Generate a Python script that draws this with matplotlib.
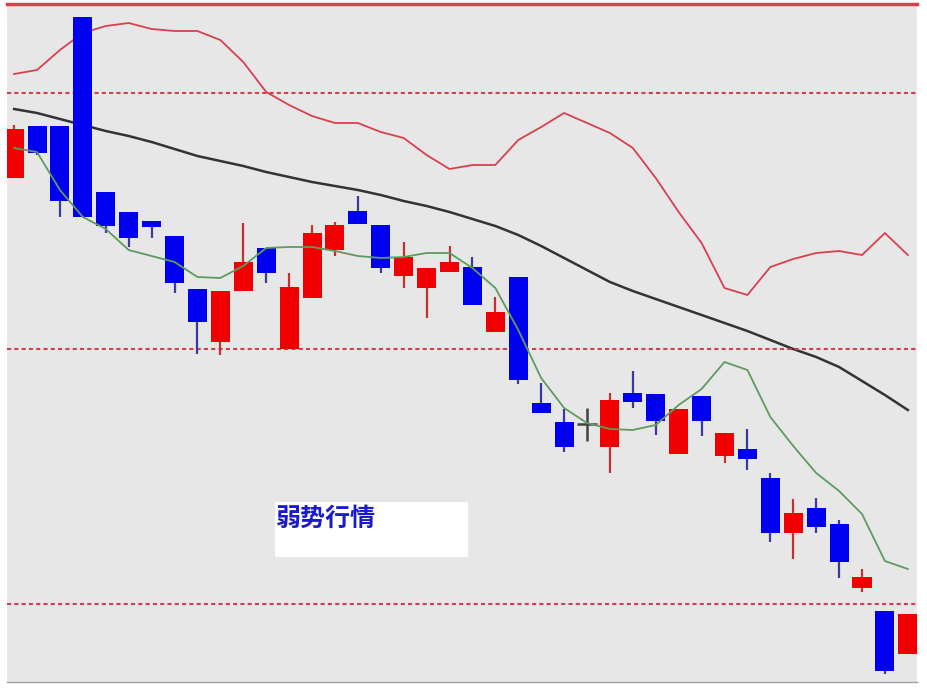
import matplotlib
matplotlib.use("Agg")
import matplotlib.pyplot as plt
from matplotlib.patches import Rectangle
import numpy as np

plt.rcParams['font.family'] = ['Noto Sans CJK SC', 'DejaVu Sans']

# candle data (price units)
opens  = [52.2, 57.4, 57.4, 68.3, 50.8, 48.8, 47.9, 46.4, 41.1, 35.8,
          40.9, 45.2, 35.1, 40.2, 45.0, 48.9, 47.5, 42.4, 41.2, 42.8,
          43.3, 36.8, 42.3, 29.7, 27.8, 27.6, 25.3, 30.7, 30.6, 24.6,
          30.4, 24.4, 25.1, 22.2, 16.7, 19.2, 17.6, 11.2, 8.9, 4.6]
closes = [57.1, 54.7, 49.9, 48.3, 47.4, 46.2, 47.3, 41.7, 37.8, 40.9,
          43.8, 42.7, 41.3, 46.7, 47.5, 47.6, 43.2, 44.3, 43.2, 43.8,
          39.5, 38.8, 32.0, 28.7, 25.3, 27.6, 30.0, 29.8, 27.9, 29.1,
          27.9, 26.7, 24.1, 16.7, 18.7, 17.3, 13.8, 12.3, 2.9, 8.6]
highs  = [57.5, 57.4, 57.4, 68.3, 50.8, 48.8, 47.9, 46.4, 41.1, 40.9,
          47.7, 45.2, 42.7, 47.5, 47.8, 50.4, 47.5, 45.8, 43.2, 45.4,
          44.3, 40.3, 42.3, 31.7, 29.1, 29.2, 30.7, 32.9, 30.6, 29.1,
          30.4, 26.7, 27.1, 22.7, 20.1, 20.2, 18.0, 13.1, 8.9, 8.6]
lows   = [52.2, 54.5, 48.3, 48.3, 46.7, 45.3, 46.2, 40.7, 34.6, 34.5,
          40.9, 41.7, 35.1, 40.2, 44.4, 47.6, 42.7, 41.2, 38.2, 42.8,
          39.5, 36.8, 31.6, 28.7, 24.8, 25.9, 22.7, 29.2, 26.5, 24.6,
          26.4, 23.7, 23.0, 15.8, 14.1, 16.7, 12.2, 10.8, 2.6, 4.6]

# moving average / band lines
ma_short = [55.2, 54.8, 51.0, 48.3, 47.1, 45.0, 44.4, 43.8, 42.3, 42.2,
            43.4, 45.2, 45.3, 45.3, 44.9, 44.4, 44.2, 44.3, 44.7, 44.7,
            43.2, 41.2, 37.0, 32.2, 29.2, 27.7, 27.1, 27.0, 27.5, 29.5,
            31.1, 33.8, 33.0, 28.3, 25.4, 22.7, 20.9, 18.6, 13.9, 13.1]
ma_long = [59.1, 58.7, 58.1, 57.5, 56.9, 56.4, 55.8, 55.1, 54.4, 53.9,
           53.4, 52.8, 52.3, 51.8, 51.4, 51.0, 50.5, 49.9, 49.4, 48.8,
           48.1, 47.4, 46.5, 45.4, 44.2, 43.0, 41.8, 40.9, 40.1, 39.3,
           38.5, 37.7, 36.9, 36.0, 35.1, 34.3, 33.3, 31.9, 30.5, 29.0]
upper = [62.6, 63.0, 65.0, 66.7, 67.4, 67.7, 67.1, 66.9, 66.9, 66.0,
         63.8, 60.8, 59.5, 58.4, 57.7, 57.7, 56.8, 56.2, 54.5, 53.1,
         53.5, 53.5, 56.0, 57.3, 58.7, 57.7, 56.7, 55.2, 52.2, 48.8,
         45.7, 41.2, 40.5, 43.3, 44.1, 44.7, 44.9, 44.5, 46.7, 44.5]

levels = [60.7, 35.1, 9.6]
label = "弱势行情"

fig = plt.figure(figsize=(9.27, 6.91), dpi=100)
ax = fig.add_axes([7/927, 9/691, 910/927, 678/691])
ax.set_facecolor('#e7e7e7')

x = np.arange(len(opens))
o = np.array(opens); c = np.array(closes)
h = np.array(highs); l = np.array(lows)
up = c > o
down = c < o
flat = c == o
w = 0.83

# wicks
ax.vlines(x[up], l[up], h[up], color='#c83030', lw=1.6, zorder=2)
ax.vlines(x[down], l[down], h[down], color='#3a3a9a', lw=1.6, zorder=2)
ax.vlines(x[flat], l[flat], h[flat], color='#404048', lw=1.8, zorder=2)

# bodies
ax.bar(x[up], (c - o)[up], bottom=o[up], width=w, color='#f00000', zorder=3)
ax.bar(x[down], (o - c)[down], bottom=c[down], width=w, color='#0000f0', zorder=3)
ax.hlines(c[flat], x[flat] - w / 2, x[flat] + w / 2, color='#404048', lw=1.8, zorder=3)

# lines
ax.plot(x, upper, color='#d84050', lw=1.3, zorder=1)
ax.plot(x, ma_long, color='#333333', lw=1.8, zorder=1)
ax.plot(x, ma_short, color='#5f9a5f', lw=1.3, zorder=4)

for lv in levels:
    ax.axhline(lv, color='#d04050', lw=1.5, ls=(0, (2, 1.5)), zorder=1)

ax.set_xlim(-0.31, 39.4)
ax.set_ylim(1.8, 69.6)
ax.set_xticks([])
ax.set_yticks([])
for s in ['left', 'right']:
    ax.spines[s].set_visible(False)
ax.spines['top'].set_color('#d84050')
ax.spines['top'].set_linewidth(2.5)
ax.spines['bottom'].set_color('#a0a0a0')
ax.spines['bottom'].set_linewidth(1)

# label box
ax.add_patch(Rectangle((0.2945, 0.1844), 0.212, 0.081, transform=ax.transAxes,
                       facecolor='white', edgecolor='none', zorder=5))
ax.text(0.2956, 0.241, label, transform=ax.transAxes, fontsize=18,
        fontweight='bold', color='#1a1acc', va='center', ha='left', zorder=6)

fig.savefig('out.png', dpi=100, facecolor='white')
